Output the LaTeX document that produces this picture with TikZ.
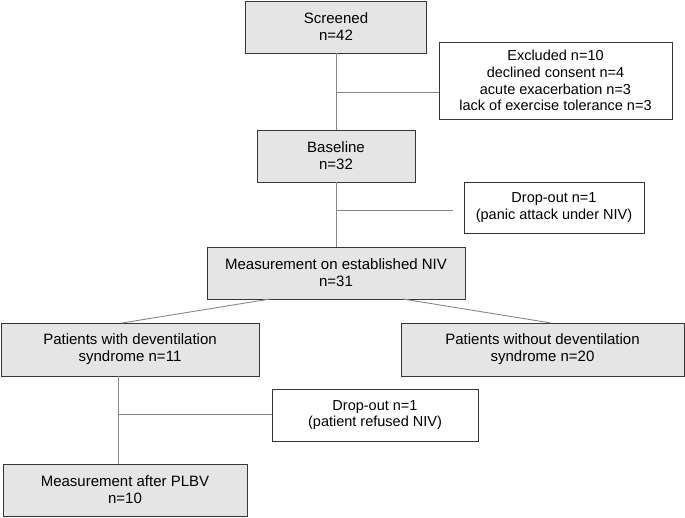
\documentclass[tikz,border=0pt]{standalone}
\usepackage{fontspec}
\setmainfont{Liberation Sans}
\usepackage{xcolor}
\usepackage{tikz}
\usetikzlibrary{positioning,calc}
\definecolor{boxgray}{RGB}{229,229,229}
\definecolor{edgegray}{RGB}{55,55,55}
\definecolor{linkgray}{RGB}{135,135,135}

\begin{document}
\begin{tikzpicture}[x=1pt,y=-1pt,
        stage/.style={draw=edgegray,fill=boxgray,line width=0.9pt,align=center,
            inner sep=0pt,font=\fontsize{15}{17}\selectfont},
        note/.style={stage,fill=white},
        link/.style={draw=linkgray,line width=0.9pt}]
                \useasboundingbox (0,0) rectangle (685,517);
                % Main flow
                \node[stage,minimum width=181pt,minimum height=52pt] (screened) at (336,27) {Screened\\n=42};
                \node[stage,minimum width=158pt,minimum height=52pt] (baseline) at (336,156) {Baseline\\n=32};
                \node[stage,minimum width=258pt,minimum height=52pt] (niv) at (336,273) {Measurement on established NIV\\n=31};
                \node[stage,minimum width=258pt,minimum height=53pt] (pwith) at (130,349.5) {Patients with deventilation\\syndrome n=11};
                \node[stage,minimum width=283pt,minimum height=53pt] (pwithout) at (542.5,349.5) {Patients without deventilation\\syndrome n=20};
                \node[stage,minimum width=244pt,minimum height=52pt] (plbv) at (125,490) {Measurement after PLBV\\n=10};
                % Side boxes
                \node[note,minimum width=233pt,minimum height=77pt,font=\fontsize{14.5}{16.7}\selectfont] (excluded) at (555.5,80.5)
                    {Excluded n=10\\declined consent n=4\\acute exacerbation n=3\\lack of exercise tolerance n=3};
                \node[note,minimum width=180pt,minimum height=51pt,font=\fontsize{14.5}{16.7}\selectfont] (drop1) at (554,207.5)
                    {Drop-out n=1\\(panic attack under NIV)};
                \node[note,minimum width=206pt,minimum height=52pt,font=\fontsize{14.5}{16.7}\selectfont] (drop2) at (375,415)
                    {Drop-out n=1\\(patient refused NIV)};
                % Junction points
                \coordinate (j1) at (336,92);
                \coordinate (j2) at (336,210);
                \coordinate (j2end) at (453,210);
                \coordinate (nivL) at (270,299);
                \coordinate (nivR) at (403,299);
                \coordinate (pwithTop) at (122,323);
                \coordinate (pwithoutTop) at (551,323);
                \coordinate (pwithBot) at (118,376);
                \coordinate (plbvTop) at (118,464);
                \coordinate (j3) at (118,414);
                % Connectors
                \draw[link] (screened.south) -- (baseline.north);
                \draw[link] (j1) -- (j1 -| excluded.west);
                \draw[link] (baseline.south) -- (niv.north);
                \draw[link] (j2) -- (j2end);
                \draw[link] (nivL) -- (pwithTop);
                \draw[link] (nivR) -- (pwithoutTop);
                \draw[link] (pwithBot) -- (plbvTop);
                \draw[link] (j3) -- (j3 -| drop2.west);
\end{tikzpicture}
\end{document}
